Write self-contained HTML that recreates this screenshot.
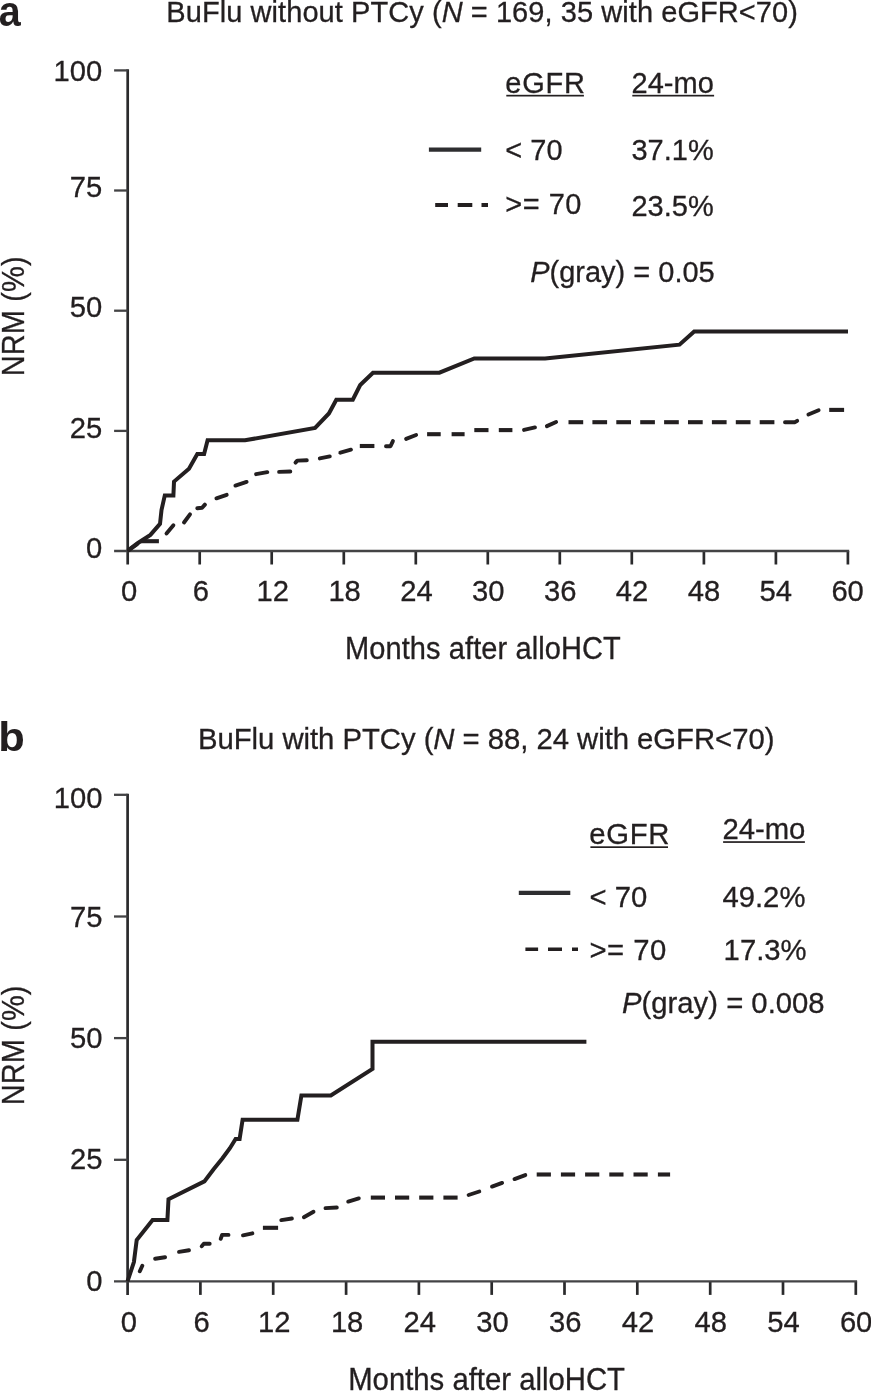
<!DOCTYPE html>
<html lang="en"><head><meta charset="utf-8"><title>NRM by eGFR</title>
<style>html,body{margin:0;padding:0;background:#fff}svg{display:block;will-change:transform}text{stroke:#231f20;stroke-width:.3px}text[stroke=none]{stroke:none}</style>
</head><body>
<svg width="871" height="1391" viewBox="0 0 871 1391" font-family="'Liberation Sans', Arial, Helvetica, sans-serif" fill="#231f20">
<rect width="871" height="1391" fill="#fff"/>

<!-- ============ panel a ============ -->
<text transform="translate(-1.2 25.9) scale(0.94 1.03)" font-size="42" font-weight="bold" stroke="none">a</text>
<text transform="translate(166.3 22.3) scale(1 1.01)" font-size="29.0" textLength="631.6">BuFlu without PTCy (<tspan font-style="italic">N</tspan> = 169, 35 with eGFR&lt;70)</text>
<g fill="none" stroke="#2a2a2c" stroke-width="2.7">
<line x1="127.7" y1="69.3" x2="127.7" y2="564.5"/>
<line x1="199.7" y1="551.0" x2="199.7" y2="564.5"/><line x1="271.7" y1="551.0" x2="271.7" y2="564.5"/><line x1="343.8" y1="551.0" x2="343.8" y2="564.5"/><line x1="415.8" y1="551.0" x2="415.8" y2="564.5"/><line x1="487.8" y1="551.0" x2="487.8" y2="564.5"/><line x1="559.8" y1="551.0" x2="559.8" y2="564.5"/><line x1="631.8" y1="551.0" x2="631.8" y2="564.5"/><line x1="703.9" y1="551.0" x2="703.9" y2="564.5"/><line x1="775.9" y1="551.0" x2="775.9" y2="564.5"/><line x1="847.9" y1="551.0" x2="847.9" y2="564.5"/>
</g>
<g fill="none" stroke="#434345" stroke-width="2.3">
<line x1="114.10000000000001" y1="551.0" x2="849.2" y2="551.0"/>
<line x1="114.10000000000001" y1="430.9" x2="127.7" y2="430.9"/><line x1="114.10000000000001" y1="310.7" x2="127.7" y2="310.7"/><line x1="114.10000000000001" y1="190.5" x2="127.7" y2="190.5"/><line x1="114.10000000000001" y1="70.4" x2="127.7" y2="70.4"/>
</g>
<g><text transform="translate(102.2 557.9) scale(1 1.03)" font-size="29.2" text-anchor="end">0</text><text transform="translate(102.2 437.6) scale(1 1.03)" font-size="29.2" text-anchor="end">25</text><text transform="translate(102.2 316.9) scale(1 1.03)" font-size="29.2" text-anchor="end">50</text><text transform="translate(102.2 197.0) scale(1 1.03)" font-size="29.2" text-anchor="end">75</text><text transform="translate(102.2 80.5) scale(1 1.03)" font-size="29.2" text-anchor="end">100</text></g>
<g><text transform="translate(129.0 600.5) scale(1 1.03)" font-size="29.2" text-anchor="middle">0</text><text transform="translate(200.9 600.5) scale(1 1.03)" font-size="29.2" text-anchor="middle">6</text><text transform="translate(272.7 600.5) scale(1 1.03)" font-size="29.2" text-anchor="middle">12</text><text transform="translate(344.6 600.5) scale(1 1.03)" font-size="29.2" text-anchor="middle">18</text><text transform="translate(416.4 600.5) scale(1 1.03)" font-size="29.2" text-anchor="middle">24</text><text transform="translate(488.3 600.5) scale(1 1.03)" font-size="29.2" text-anchor="middle">30</text><text transform="translate(560.2 600.5) scale(1 1.03)" font-size="29.2" text-anchor="middle">36</text><text transform="translate(632.0 600.5) scale(1 1.03)" font-size="29.2" text-anchor="middle">42</text><text transform="translate(703.9 600.5) scale(1 1.03)" font-size="29.2" text-anchor="middle">48</text><text transform="translate(775.7 600.5) scale(1 1.03)" font-size="29.2" text-anchor="middle">54</text><text transform="translate(847.6 600.5) scale(1 1.03)" font-size="29.2" text-anchor="middle">60</text></g>
<text transform="translate(345 659.4) scale(1 1.05)" font-size="29.0" textLength="275.8">Months after alloHCT</text>
<text transform="translate(24.2 376.3) rotate(-90) scale(1 1.05)" font-size="29.0" textLength="119.9">NRM (%)</text>
<polyline points="127.8,550.7 137.6,543.2 150.4,534.9 160.0,523.9 161.5,510.0 164.8,495.4 173.4,495.4 174.0,481.6 189.0,468.7 197.3,454.0 204.1,454.0 207.6,440.3 245.0,440.3 315.1,427.9 328.9,413.5 336.3,399.7 352.8,399.7 360.2,385.0 373.0,372.7 439.4,372.7 474.3,358.5 545.1,358.5 679.5,344.7 694.2,331.4 848.0,331.4" fill="none" stroke="#231f20" stroke-width="4" stroke-linejoin="miter"/>
<g fill="none" stroke="#231f20" stroke-width="4.1" stroke-linejoin="round"><polyline points="128.8,550.1 137.2,544.2" stroke-width="3.9" stroke-linecap="round"/><polyline points="141.1,541.2 158.9,541.2"/><polyline points="166.5,533.4 173.4,525.2" stroke-width="3.9" stroke-linecap="round"/><polyline points="184.0,522.5 190.0,514.3" stroke-width="3.9" stroke-linecap="round"/><polyline points="197.3,508.3 202.1,507.8 204.9,504.6" stroke-width="3.9" stroke-linecap="round"/><polyline points="216.4,498.3 226.7,494.8" stroke-width="3.9" stroke-linecap="round"/><polyline points="235.4,485.6 246.6,481.9" stroke-width="3.9" stroke-linecap="round"/><polyline points="256.1,474.2 267.3,472.1" stroke-width="3.9" stroke-linecap="round"/><polyline points="279.1,471.9 290.3,471.5" stroke-width="3.9" stroke-linecap="round"/><polyline points="295.5,462.6 297.3,460.6 306.8,460.3" stroke-width="3.9" stroke-linecap="round"/><polyline points="319.8,458.4 329.8,456.4" stroke-width="3.9" stroke-linecap="round"/><polyline points="340.4,452.7 350.9,449.7" stroke-width="3.9" stroke-linecap="round"/><polyline points="359.8,446.0 374.4,446.0"/><polyline points="386.0,446.3 390.5,446.3 392.9,441.1" stroke-width="3.9" stroke-linecap="round"/><polyline points="406.1,438.9 416.1,435.0" stroke-width="3.9" stroke-linecap="round"/><polyline points="427.1,434.2 440.7,434.2"/><polyline points="451.6,434.2 464.6,434.2"/><polyline points="474.3,430.1 488.5,430.1"/><polyline points="498.8,430.1 512.4,430.1"/><polyline points="524.0,429.9 535.0,427.4" stroke-width="3.9" stroke-linecap="round"/><polyline points="546.9,426.1 556.1,422.0" stroke-width="3.9" stroke-linecap="round"/><polyline points="568.5,422.2 583.2,422.2"/><polyline points="592.4,422.2 607.1,422.2"/><polyline points="616.3,422.2 631.0,422.2"/><polyline points="640.2,422.2 654.9,422.2"/><polyline points="664.1,422.2 678.8,422.2"/><polyline points="688.0,422.2 702.7,422.2"/><polyline points="711.9,422.2 726.6,422.2"/><polyline points="735.8,422.2 750.5,422.2"/><polyline points="759.7,422.2 774.4,422.2"/><polyline points="785.0,422.2 795.0,422.2 797.2,420.8" stroke-width="3.9" stroke-linecap="round"/><polyline points="808.4,414.5 818.6,410.3" stroke-width="3.9" stroke-linecap="round"/><polyline points="829.2,409.9 844.1,409.9"/></g>
<!-- legend a -->
<text transform="translate(505.3 92.7) scale(1 1.035)" font-size="29.0" textLength="79.6">eGFR</text>
<rect x="506.3" y="94.8" width="77.6" height="1.7"/>
<text transform="translate(631.6 92.7) scale(1 1.035)" font-size="29.0">24-mo</text>
<rect x="632.3" y="94.8" width="81.8" height="1.7"/>
<line x1="428.9" y1="149.6" x2="481.2" y2="149.6" stroke="#2e2e30" stroke-width="4.3"/>
<path d="M435.2 205H448M457.7 205H472.3M481.5 205H488" stroke="#231f20" stroke-width="4.2"/>
<text transform="translate(505.3 160.3) scale(1 1.035)" font-size="29.0">&lt; 70</text>
<text transform="translate(631.5 160.3) scale(1 1.035)" font-size="29.0">37.1%</text>
<text transform="translate(505.3 213.9) scale(1 1.035)" font-size="29.0" textLength="76.2">&gt;= 70</text>
<text transform="translate(631.5 216.3) scale(1 1.035)" font-size="29.0">23.5%</text>
<text transform="translate(530.2 282.4) scale(1 1.035)" font-size="29.0"><tspan font-style="italic">P</tspan>(gray) = 0.05</text>

<!-- ============ panel b ============ -->
<text transform="translate(-1.7 750.9) scale(1.035 0.97)" font-size="42" font-weight="bold" stroke="none">b</text>
<text transform="translate(198 749.4) scale(1 1.01)" font-size="29.3" textLength="576.4">BuFlu with PTCy (<tspan font-style="italic">N</tspan> = 88, 24 with eGFR&lt;70)</text>
<g fill="none" stroke="#2a2a2c" stroke-width="2.7">
<line x1="127.6" y1="793.7" x2="127.6" y2="1294.9"/>
<line x1="200.4" y1="1281.4" x2="200.4" y2="1294.9"/><line x1="273.2" y1="1281.4" x2="273.2" y2="1294.9"/><line x1="346.1" y1="1281.4" x2="346.1" y2="1294.9"/><line x1="418.9" y1="1281.4" x2="418.9" y2="1294.9"/><line x1="491.7" y1="1281.4" x2="491.7" y2="1294.9"/><line x1="564.5" y1="1281.4" x2="564.5" y2="1294.9"/><line x1="637.3" y1="1281.4" x2="637.3" y2="1294.9"/><line x1="710.2" y1="1281.4" x2="710.2" y2="1294.9"/><line x1="783.0" y1="1281.4" x2="783.0" y2="1294.9"/><line x1="855.8" y1="1281.4" x2="855.8" y2="1294.9"/>
</g>
<g fill="none" stroke="#434345" stroke-width="2.3">
<line x1="114.0" y1="1281.4" x2="857.1" y2="1281.4"/>
<line x1="114.0" y1="1159.8" x2="127.6" y2="1159.8"/><line x1="114.0" y1="1038.1" x2="127.6" y2="1038.1"/><line x1="114.0" y1="916.5" x2="127.6" y2="916.5"/><line x1="114.0" y1="794.8" x2="127.6" y2="794.8"/>
</g>
<g><text transform="translate(102.5 1291.1) scale(1 1.03)" font-size="29.2" text-anchor="end">0</text><text transform="translate(102.5 1168.9) scale(1 1.03)" font-size="29.2" text-anchor="end">25</text><text transform="translate(102.5 1047.5) scale(1 1.03)" font-size="29.2" text-anchor="end">50</text><text transform="translate(102.5 926.9) scale(1 1.03)" font-size="29.2" text-anchor="end">75</text><text transform="translate(102.5 808.1) scale(1 1.03)" font-size="29.2" text-anchor="end">100</text></g>
<g><text transform="translate(128.9 1331.6) scale(1 1.03)" font-size="29.2" text-anchor="middle">0</text><text transform="translate(201.6 1331.6) scale(1 1.03)" font-size="29.2" text-anchor="middle">6</text><text transform="translate(274.3 1331.6) scale(1 1.03)" font-size="29.2" text-anchor="middle">12</text><text transform="translate(347.1 1331.6) scale(1 1.03)" font-size="29.2" text-anchor="middle">18</text><text transform="translate(419.8 1331.6) scale(1 1.03)" font-size="29.2" text-anchor="middle">24</text><text transform="translate(492.5 1331.6) scale(1 1.03)" font-size="29.2" text-anchor="middle">30</text><text transform="translate(565.2 1331.6) scale(1 1.03)" font-size="29.2" text-anchor="middle">36</text><text transform="translate(637.9 1331.6) scale(1 1.03)" font-size="29.2" text-anchor="middle">42</text><text transform="translate(710.7 1331.6) scale(1 1.03)" font-size="29.2" text-anchor="middle">48</text><text transform="translate(783.4 1331.6) scale(1 1.03)" font-size="29.2" text-anchor="middle">54</text><text transform="translate(856.1 1331.6) scale(1 1.03)" font-size="29.2" text-anchor="middle">60</text></g>
<text transform="translate(348.2 1390) scale(1 1.05)" font-size="29.3">Months after alloHCT</text>
<text transform="translate(24.2 1105.2) rotate(-90) scale(1 1.05)" font-size="29.0" textLength="119.7">NRM (%)</text>
<polyline points="127.5,1281.4 133.9,1262.1 136.7,1240.1 152.6,1219.9 167.4,1219.9 168.5,1199.3 204.4,1181.4 213.4,1169.5 222.5,1158.3 229.9,1148.2 235.6,1139.0 239.6,1139.0 242.6,1119.8 297.4,1119.8 301.4,1095.4 330.8,1095.4 372.5,1068.9 372.5,1041.8 586.4,1041.8" fill="none" stroke="#231f20" stroke-width="4" stroke-linejoin="miter"/>
<g fill="none" stroke="#231f20" stroke-width="4.1" stroke-linejoin="round"><polyline points="139.8,1271.3 142.3,1265.8" stroke-width="3.9" stroke-linecap="round"/><polyline points="155.1,1258.7 165.1,1257.3" stroke-width="3.9" stroke-linecap="round"/><polyline points="179.0,1251.9 189.0,1250.3" stroke-width="3.9" stroke-linecap="round"/><polyline points="201.7,1246.2 203.8,1243.8 209.7,1243.8" stroke-width="3.9" stroke-linecap="round"/><polyline points="220.7,1238.8 222.1,1234.9 228.5,1234.9" stroke-width="3.9" stroke-linecap="round"/><polyline points="243.0,1235.3 252.4,1233.3" stroke-width="3.9" stroke-linecap="round"/><polyline points="262.9,1227.8 278.1,1227.8"/><polyline points="281.3,1220.1 291.9,1218.5" stroke-width="3.9" stroke-linecap="round"/><polyline points="303.9,1217.3 313.5,1211.7" stroke-width="3.9" stroke-linecap="round"/><polyline points="325.5,1208.1 336.8,1207.5" stroke-width="3.9" stroke-linecap="round"/><polyline points="348.2,1201.6 358.8,1198.4" stroke-width="3.9" stroke-linecap="round"/><polyline points="370.8,1197.6 385.0,1197.6"/><polyline points="395.0,1197.6 409.2,1197.6"/><polyline points="419.2,1197.6 433.4,1197.6"/><polyline points="443.4,1197.6 457.6,1197.6"/><polyline points="468.6,1195.0 479.3,1191.5" stroke-width="3.9" stroke-linecap="round"/><polyline points="492.0,1186.6 502.1,1182.9" stroke-width="3.9" stroke-linecap="round"/><polyline points="514.5,1179.1 525.3,1175.1" stroke-width="3.9" stroke-linecap="round"/><polyline points="536.7,1174.5 550.9,1174.5"/><polyline points="560.9,1174.5 575.1,1174.5"/><polyline points="585.1,1174.5 599.3,1174.5"/><polyline points="609.3,1174.5 623.5,1174.5"/><polyline points="633.5,1174.5 647.7,1174.5"/><polyline points="657.9,1174.5 670.1,1174.5"/></g>
<!-- legend b -->
<text transform="translate(589.2 843.9) scale(1 1.035)" font-size="29.3" textLength="80.2">eGFR</text>
<rect x="590.4" y="846.3" width="77.6" height="1.7"/>
<text transform="translate(722.4 838.8) scale(1 1.035)" font-size="29.3">24-mo</text>
<rect x="723.1" y="841.2" width="81.8" height="1.7"/>
<line x1="518.8" y1="892.8" x2="570.3" y2="892.8" stroke="#2e2e30" stroke-width="4.2"/>
<path d="M525.4 949.3H538.1M548 949.3H562M572 949.3H578" stroke="#231f20" stroke-width="3.5"/>
<text transform="translate(589.4 906.6) scale(1 1.035)" font-size="29.3">&lt; 70</text>
<text transform="translate(722.4 906.6) scale(1 1.035)" font-size="29.3">49.2%</text>
<text transform="translate(589.4 959.6) scale(1 1.035)" font-size="29.3" textLength="77">&gt;= 70</text>
<text transform="translate(723.6 960.3) scale(1 1.035)" font-size="29.3">17.3%</text>
<text transform="translate(622 1013.3) scale(1 1.035)" font-size="29.3"><tspan font-style="italic">P</tspan>(gray) = 0.008</text>
</svg>
</body></html>
